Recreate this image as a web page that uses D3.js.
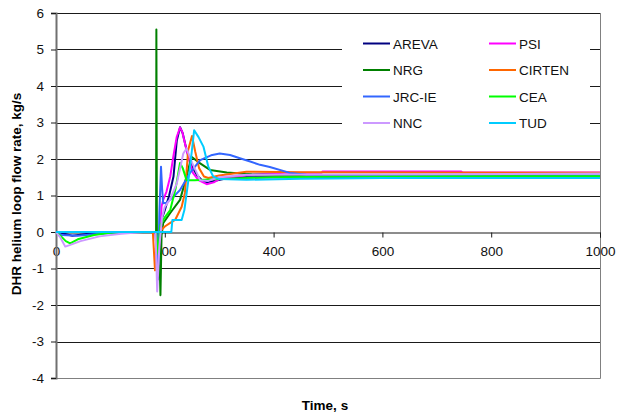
<!DOCTYPE html>
<html>
<head>
<meta charset="utf-8">
<script src="https://cdn.jsdelivr.net/npm/d3@7"></script>
<style>
  body { margin: 0; background: #fff; }
  text { font-family: "Liberation Sans", Arial, sans-serif; }
</style>
</head>
<body>
<div id="chart"></div>
<script>
// series data, [time s, flow kg/s]
const areva = [[0,0],[15,-0.05],[30,-0.1],[60,-0.05],[120,0],[183,0],[187,-1.3],[190,-0.6],[193,0.3],[200,0.6],[208,1.0],[216,1.52],[222,2.5],[228,2.87],[233,2.7],[240,2.25],[250,1.8],[259,1.56],[268,1.42],[277,1.36],[290,1.4],[310,1.46],[350,1.5],[450,1.5],[600,1.52],[1000,1.52]];
const psi = [[0,0],[183,0],[187,-1.2],[191,-0.3],[194,0.7],[197,0.88],[203,1.1],[210,1.52],[216,2.1],[222,2.61],[228,2.86],[232,2.75],[237,2.43],[244,2.0],[252,1.61],[262,1.42],[277,1.31],[290,1.36],[300,1.45],[350,1.56],[420,1.62],[488,1.62],[490,1.66],[745,1.66],[747,1.63],[1000,1.63]];
const nrg = [[0,0],[184,0],[184.5,5.55],[185.5,0],[190,-0.5],[192,-1.73],[194,-0.1],[197,0.24],[210,0.52],[228,0.88],[240,1.52],[249,2.06],[265,1.88],[283,1.7],[314,1.63],[360,1.58],[450,1.55],[1000,1.53]];
const cirten = [[0,0],[178,0],[182,-1.05],[186,-0.3],[190,0],[200,0.15],[210,0.25],[219,0.33],[231,0.69],[237,1.07],[243,2.25],[250,2.63],[256,2.2],[263,1.75],[272,1.52],[280,1.48],[300,1.55],[350,1.65],[450,1.64],[1000,1.62]];
const jrc = [[0,0],[10,-0.08],[40,-0.1],[80,-0.05],[130,0],[185,0],[188,-0.9],[190,0.5],[193,1.79],[195,1.2],[197,0.79],[203,0.8],[215,0.95],[228,1.15],[246,1.61],[265,1.97],[285,2.1],[301,2.15],[320,2.11],[338,2.02],[357,1.93],[375,1.84],[393,1.78],[430,1.62],[460,1.57],[1000,1.55]];
const cea = [[0,0],[8,-0.1],[18,-0.25],[26,-0.31],[40,-0.2],[70,-0.08],[100,-0.02],[140,0],[184,0],[188,-0.6],[192,0.2],[200,0.4],[210,0.6],[220,1.2],[228,1.89],[233,1.75],[240,1.42],[255,1.42],[300,1.45],[400,1.5],[600,1.52],[1000,1.53]];
const nnc = [[0,0],[8,-0.15],[17,-0.4],[25,-0.36],[45,-0.25],[80,-0.12],[120,-0.05],[160,0],[183,0],[186,-1.63],[190,-0.4],[195,0.4],[200,0.69],[210,0.9],[222,1.33],[234,2.15],[240,2.29],[250,1.9],[265,1.42],[280,1.4],[300,1.5],[350,1.57],[1000,1.6]];
const tud = [[0,0],[212,0],[214,0.33],[231,0.33],[236,0.6],[245,1.6],[254,2.79],[262,2.6],[271,2.34],[280,1.79],[289,1.52],[300,1.45],[350,1.43],[450,1.46],[600,1.48],[1000,1.48]];

const seriesNames = ["AREVA", "PSI", "NRG", "CIRTEN", "JRC-IE", "CEA", "NNC", "TUD"];
const seriesData = [areva, psi, nrg, cirten, jrc, cea, nnc, tud];
const seriesColors = ["#000080", "#ff00ff", "#008000", "#ff6600", "#3366ff", "#00ff00", "#cc99ff", "#00ccff"];

const xTicks = [0, 200, 400, 600, 800, 1000];
const yTicks = [-4, -3, -2, -1, 0, 1, 2, 3, 4, 5, 6];

const width = 617, height = 413;
const plotLeft = 56, plotRight = 600, plotTop = 13, plotBottom = 378;

let svg = d3.select("#chart")
    .append("svg")
    .attr("width", width)
    .attr("height", height);

let x = d3.scaleLinear().domain([0, 1000]).range([plotLeft, plotRight]);
let y = d3.scaleLinear().domain([-4, 6]).range([plotBottom, plotTop]);

// gridlines
svg.append("g")
    .selectAll("line")
    .data(yTicks.filter(d => d > -4 && d !== 0))
    .join("line")
    .attr("x1", plotLeft)
    .attr("x2", plotRight)
    .attr("y1", d => Math.round(y(d)) + 0.5)
    .attr("y2", d => Math.round(y(d)) + 0.5)
    .attr("stroke", "#1a1a1a")
    .attr("stroke-width", 1);

// plot border (right and bottom)
svg.append("path")
    .attr("d", `M${plotRight + 0.5},${plotTop} V${Math.round(plotBottom) + 0.5} H${plotLeft}`)
    .attr("fill", "none")
    .attr("stroke", "#808080")
    .attr("stroke-width", 1);

// x axis at zero
let xAxis = d3.axisBottom(x)
    .tickValues(xTicks)
    .tickSize(5)
    .tickPadding(9)
    .tickFormat(d => String(d));

let gx = svg.append("g")
    .attr("transform", "translate(0," + (Math.round(y(0)) + 0.5) + ")")
    .call(xAxis);
gx.select(".domain").attr("stroke", "#1a1a1a");
gx.selectAll(".tick line").attr("stroke", "#1a1a1a");
gx.selectAll(".tick text")
    .attr("fill", "#111")
    .style("font-size", "13.5px")
    .style("font-family", "'Liberation Sans', Arial, sans-serif");

// y axis
let yAxis = d3.axisLeft(y)
    .tickValues(yTicks)
    .tickSize(5)
    .tickPadding(7)
    .tickFormat(d => String(d));

let gy = svg.append("g")
    .attr("transform", "translate(" + plotLeft + ",0)")
    .call(yAxis);
gy.select(".domain").attr("stroke", "#707070").attr("stroke-width", 2);
gy.selectAll(".tick line").attr("stroke", "#1a1a1a");
gy.selectAll(".tick text")
    .attr("fill", "#111")
    .style("font-size", "13.5px")
    .style("font-family", "'Liberation Sans', Arial, sans-serif");

// series lines
let line = d3.line()
    .x(d => x(d[0]))
    .y(d => y(d[1]));

for (let i = 0; i < seriesData.length; i++)
{
    svg.append("path")
        .datum(seriesData[i])
        .attr("d", line)
        .attr("fill", "none")
        .attr("stroke", seriesColors[i])
        .attr("stroke-width", 2)
        .attr("stroke-linejoin", "round");
}

// legend
let legend = svg.append("g");
legend.append("rect")
    .attr("x", 342)
    .attr("y", 26)
    .attr("width", 248)
    .attr("height", 114)
    .attr("fill", "#fff");

for (let i = 0; i < seriesNames.length; i++)
{
    const col = i % 2;
    const row = Math.floor(i / 2);
    const lx = 363 + col * 126;
    const ly = 43.5 + row * 26.5;
    legend.append("line")
        .attr("x1", lx)
        .attr("x2", lx + 27)
        .attr("y1", ly)
        .attr("y2", ly)
        .attr("stroke", seriesColors[i])
        .attr("stroke-width", 2);
    legend.append("text")
        .attr("x", lx + 30)
        .attr("y", ly + 5)
        .style("font-size", "13.5px")
        .attr("fill", "#111")
        .text(seriesNames[i]);
}

// axis titles
svg.append("text")
    .attr("x", 325)
    .attr("y", 410)
    .attr("text-anchor", "middle")
    .style("font-size", "13.5px")
    .style("font-weight", "bold")
    .text("Time, s");

svg.append("text")
    .attr("transform", "translate(21,194) rotate(-90)")
    .attr("text-anchor", "middle")
    .style("font-size", "13.5px")
    .style("font-weight", "bold")
    .text("DHR helium loop flow rate, kg/s");
</script>
</body>
</html>
